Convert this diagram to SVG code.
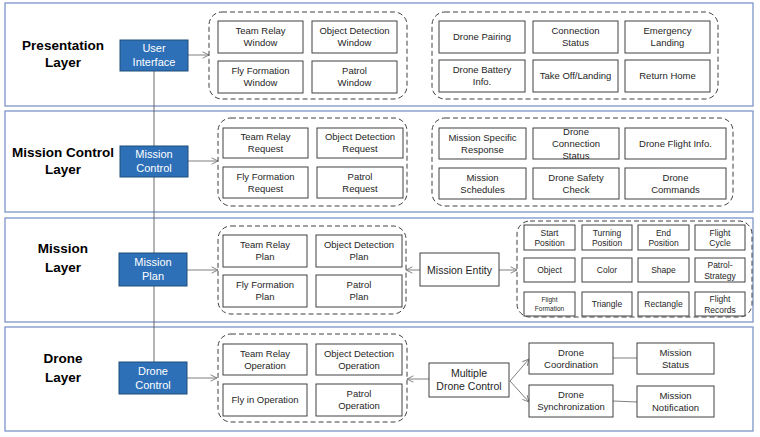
<svg xmlns="http://www.w3.org/2000/svg" width="760" height="437" viewBox="0 0 760 437">
<defs>
<marker id="arr" viewBox="0 0 10 10" refX="9" refY="5" markerWidth="8" markerHeight="8" orient="auto-start-reverse" markerUnits="userSpaceOnUse">
<path d="M1,1 L9,5 L1,9" fill="none" stroke="#7f7f7f" stroke-width="1.2"/>
</marker>
</defs>
<style>
text{font-family:"Liberation Sans",Arial,sans-serif;fill:#262626;text-anchor:middle}
.layer{fill:#fff;stroke:#7d95c8;stroke-width:1.3}
.lt{font-size:13.5px;font-weight:bold;fill:#000}
.blue{fill:#2e70b8;stroke:#1f4e79;stroke-width:1}
.bt{font-size:11px;fill:#fff}
.grp{fill:none;stroke:#404040;stroke-width:1;stroke-dasharray:5 3}
.box{fill:#fff;stroke:#404040;stroke-width:1}
.t{font-size:9.5px}
.s{font-size:8.5px}
.xs{font-size:6.5px}
.m{font-size:10.5px}
.con{fill:none;stroke:#7f7f7f;stroke-width:1}
.vl{fill:none;stroke:#595959;stroke-width:0.9}
</style>

<g id="layers">
<rect class="layer" x="5" y="3" width="748" height="103"/>
<rect class="layer" x="5" y="111" width="748" height="101"/>
<rect class="layer" x="5" y="218" width="748" height="104"/>
<rect class="layer" x="5" y="327" width="748" height="104"/>
<text class="lt" x="63" y="50">Presentation</text>
<text class="lt" x="63" y="67">Layer</text>
<text class="lt" x="63" y="157">Mission Control</text>
<text class="lt" x="63" y="174">Layer</text>
<text class="lt" x="63" y="253">Mission</text>
<text class="lt" x="63" y="272">Layer</text>
<text class="lt" x="63" y="363">Drone</text>
<text class="lt" x="63" y="382">Layer</text>
</g>

<g id="connectors">
<line class="vl" x1="154" y1="71" x2="154" y2="362"/>
<line class="con" x1="188" y1="55" x2="209" y2="55" marker-end="url(#arr)"/>
<line class="con" x1="188" y1="161" x2="218" y2="161" marker-end="url(#arr)"/>
<line class="con" x1="187" y1="270" x2="218" y2="270" marker-end="url(#arr)"/>
<line class="con" x1="187" y1="378" x2="217" y2="378" marker-end="url(#arr)"/>
<line class="con" x1="420" y1="270" x2="406" y2="270" marker-end="url(#arr)"/>
<line class="con" x1="499" y1="270" x2="517" y2="270" marker-end="url(#arr)"/>
<line class="con" x1="429" y1="379" x2="407" y2="379" marker-end="url(#arr)"/>
<line class="con" x1="510" y1="381" x2="529" y2="359" marker-end="url(#arr)"/>
<line class="con" x1="510" y1="381" x2="529" y2="402" marker-end="url(#arr)"/>
<line class="con" x1="613" y1="358" x2="637" y2="358"/>
<line class="con" x1="613" y1="401" x2="637" y2="402"/>
</g>

<g id="user-interface">
<rect class="blue" x="120" y="40" width="68" height="31"/>
<text class="bt" x="154" y="52">User</text>
<text class="bt" x="154" y="66">Interface</text>
</g>
<g id="mission-control">
<rect class="blue" x="120" y="146" width="68" height="31"/>
<text class="bt" x="154" y="158">Mission</text>
<text class="bt" x="154" y="172">Control</text>
</g>
<g id="mission-plan">
<rect class="blue" x="119" y="253" width="68" height="33"/>
<text class="bt" x="153" y="266">Mission</text>
<text class="bt" x="153" y="280">Plan</text>
</g>
<g id="drone-control">
<rect class="blue" x="119" y="362" width="68" height="32"/>
<text class="bt" x="153" y="375">Drone</text>
<text class="bt" x="153" y="389">Control</text>
</g>

<g id="pres-windows">
<rect class="grp" x="209" y="12" width="198" height="87" rx="13"/>
<rect class="box" x="218" y="21" width="85" height="32"/>
<text class="t" x="260.5" y="34">Team Relay</text>
<text class="t" x="260.5" y="46">Window</text>
<rect class="box" x="312" y="21" width="85" height="32"/>
<text class="t" x="354.5" y="34">Object Detection</text>
<text class="t" x="354.5" y="46">Window</text>
<rect class="box" x="218" y="61" width="85" height="32"/>
<text class="t" x="260.5" y="74">Fly Formation</text>
<text class="t" x="260.5" y="86">Window</text>
<rect class="box" x="312" y="61" width="85" height="32"/>
<text class="t" x="354.5" y="74">Patrol</text>
<text class="t" x="354.5" y="86">Window</text>
</g>

<g id="pres-drone">
<rect class="grp" x="432" y="12" width="286" height="87" rx="13"/>
<rect class="box" x="439" y="21" width="86" height="32"/>
<text class="t" x="482" y="40">Drone Pairing</text>
<rect class="box" x="533" y="21" width="85" height="32"/>
<text class="t" x="575.5" y="34">Connection</text>
<text class="t" x="575.5" y="46">Status</text>
<rect class="box" x="625" y="21" width="85" height="32"/>
<text class="t" x="667.5" y="34">Emergency</text>
<text class="t" x="667.5" y="46">Landing</text>
<rect class="box" x="439" y="60" width="86" height="32"/>
<text class="t" x="482" y="73">Drone Battery</text>
<text class="t" x="482" y="85">Info.</text>
<rect class="box" x="533" y="60" width="85" height="32"/>
<text class="t" x="575.5" y="79">Take Off/Landing</text>
<rect class="box" x="625" y="60" width="85" height="32"/>
<text class="t" x="667.5" y="79">Return Home</text>
</g>

<g id="mc-requests">
<rect class="grp" x="218" y="118" width="189" height="88" rx="13"/>
<rect class="box" x="223" y="128" width="85" height="30"/>
<text class="t" x="265.5" y="140">Team Relay</text>
<text class="t" x="265.5" y="152">Request</text>
<rect class="box" x="317" y="128" width="86" height="30"/>
<text class="t" x="360" y="140">Object Detection</text>
<text class="t" x="360" y="152">Request</text>
<rect class="box" x="223" y="167" width="85" height="31"/>
<text class="t" x="265.5" y="180">Fly Formation</text>
<text class="t" x="265.5" y="192">Request</text>
<rect class="box" x="317" y="167" width="86" height="31"/>
<text class="t" x="360" y="180">Patrol</text>
<text class="t" x="360" y="192">Request</text>
</g>

<g id="mc-drone">
<rect class="grp" x="432" y="118" width="301" height="88" rx="13"/>
<rect class="box" x="439" y="128" width="87" height="31"/>
<text class="t" x="482.5" y="141">Mission Specific</text>
<text class="t" x="482.5" y="153">Response</text>
<rect class="box" x="533" y="128" width="86" height="31"/>
<text class="t" x="576" y="135">Drone</text>
<text class="t" x="576" y="147">Connection</text>
<text class="t" x="576" y="159">Status</text>
<rect class="box" x="625" y="128" width="101" height="31"/>
<text class="t" x="675.5" y="147">Drone Flight Info.</text>
<rect class="box" x="439" y="168" width="87" height="31"/>
<text class="t" x="482.5" y="181">Mission</text>
<text class="t" x="482.5" y="193">Schedules</text>
<rect class="box" x="533" y="168" width="86" height="31"/>
<text class="t" x="576" y="181">Drone Safety</text>
<text class="t" x="576" y="193">Check</text>
<rect class="box" x="625" y="168" width="101" height="31"/>
<text class="t" x="675.5" y="181">Drone</text>
<text class="t" x="675.5" y="193">Commands</text>
</g>

<g id="mission-plans">
<rect class="grp" x="218" y="226" width="188" height="88" rx="13"/>
<rect class="box" x="223" y="235" width="84" height="32"/>
<text class="t" x="265" y="248">Team Relay</text>
<text class="t" x="265" y="260">Plan</text>
<rect class="box" x="316" y="235" width="86" height="32"/>
<text class="t" x="359" y="248">Object Detection</text>
<text class="t" x="359" y="260">Plan</text>
<rect class="box" x="223" y="275" width="84" height="32"/>
<text class="t" x="265" y="288">Fly Formation</text>
<text class="t" x="265" y="300">Plan</text>
<rect class="box" x="316" y="275" width="86" height="32"/>
<text class="t" x="359" y="288">Patrol</text>
<text class="t" x="359" y="300">Plan</text>
</g>

<g id="mission-entity">
<rect class="box" x="420" y="253" width="79" height="33"/>
<text class="m" x="459.5" y="273.5">Mission Entity</text>
</g>

<g id="entity-attributes">
<rect class="grp" x="517" y="221" width="235" height="96" rx="13"/>
<rect class="box" x="524" y="225" width="51" height="25"/>
<text class="s" x="549.5" y="236">Start</text>
<text class="s" x="549.5" y="246">Position</text>
<rect class="box" x="582" y="225" width="50" height="25"/>
<text class="s" x="607" y="236">Turning</text>
<text class="s" x="607" y="246">Position</text>
<rect class="box" x="638" y="225" width="51" height="25"/>
<text class="s" x="663.5" y="236">End</text>
<text class="s" x="663.5" y="246">Position</text>
<rect class="box" x="695" y="225" width="50" height="25"/>
<text class="s" x="720" y="236">Flight</text>
<text class="s" x="720" y="246">Cycle</text>
<rect class="box" x="524" y="258" width="51" height="24"/>
<text class="s" x="549.5" y="273">Object</text>
<rect class="box" x="582" y="258" width="50" height="24"/>
<text class="s" x="607" y="273">Color</text>
<rect class="box" x="638" y="258" width="51" height="24"/>
<text class="s" x="663.5" y="273">Shape</text>
<rect class="box" x="695" y="258" width="50" height="24"/>
<text class="s" x="720" y="268">Patrol-</text>
<text class="s" x="720" y="279">Strategy</text>
<rect class="box" x="524" y="292" width="51" height="24"/>
<text class="xs" x="549.5" y="302">Flight</text>
<text class="xs" x="549.5" y="311">Formation</text>
<rect class="box" x="582" y="292" width="50" height="24"/>
<text class="s" x="607" y="307">Triangle</text>
<rect class="box" x="638" y="292" width="51" height="24"/>
<text class="s" x="663.5" y="307">Rectangle</text>
<rect class="box" x="695" y="292" width="50" height="24"/>
<text class="s" x="720" y="302">Flight</text>
<text class="s" x="720" y="313">Records</text>
</g>

<g id="drone-operations">
<rect class="grp" x="218" y="334" width="189" height="88" rx="13"/>
<rect class="box" x="223" y="344" width="84" height="31"/>
<text class="t" x="265" y="357">Team Relay</text>
<text class="t" x="265" y="369">Operation</text>
<rect class="box" x="316" y="344" width="86" height="31"/>
<text class="t" x="359" y="357">Object Detection</text>
<text class="t" x="359" y="369">Operation</text>
<rect class="box" x="223" y="384" width="84" height="32"/>
<text class="t" x="265" y="403">Fly in Operation</text>
<rect class="box" x="316" y="384" width="86" height="32"/>
<text class="t" x="359" y="397">Patrol</text>
<text class="t" x="359" y="409">Operation</text>
</g>

<g id="multiple-drone-control">
<rect class="box" x="429" y="363" width="80" height="34"/>
<text class="m" x="469" y="377">Multiple</text>
<text class="m" x="469" y="390">Drone Control</text>
</g>
<g id="drone-coordination">
<rect class="box" x="529" y="343" width="84" height="31"/>
<text class="t" x="571" y="356">Drone</text>
<text class="t" x="571" y="368">Coordination</text>
</g>
<g id="drone-synchronization">
<rect class="box" x="529" y="385" width="84" height="32"/>
<text class="t" x="571" y="398">Drone</text>
<text class="t" x="571" y="410">Synchronization</text>
</g>
<g id="mission-status">
<rect class="box" x="637" y="343" width="77" height="31"/>
<text class="t" x="675.5" y="356">Mission</text>
<text class="t" x="675.5" y="368">Status</text>
</g>
<g id="mission-notification">
<rect class="box" x="637" y="386" width="77" height="31"/>
<text class="t" x="675.5" y="399">Mission</text>
<text class="t" x="675.5" y="411">Notification</text>
</g>
</svg>
